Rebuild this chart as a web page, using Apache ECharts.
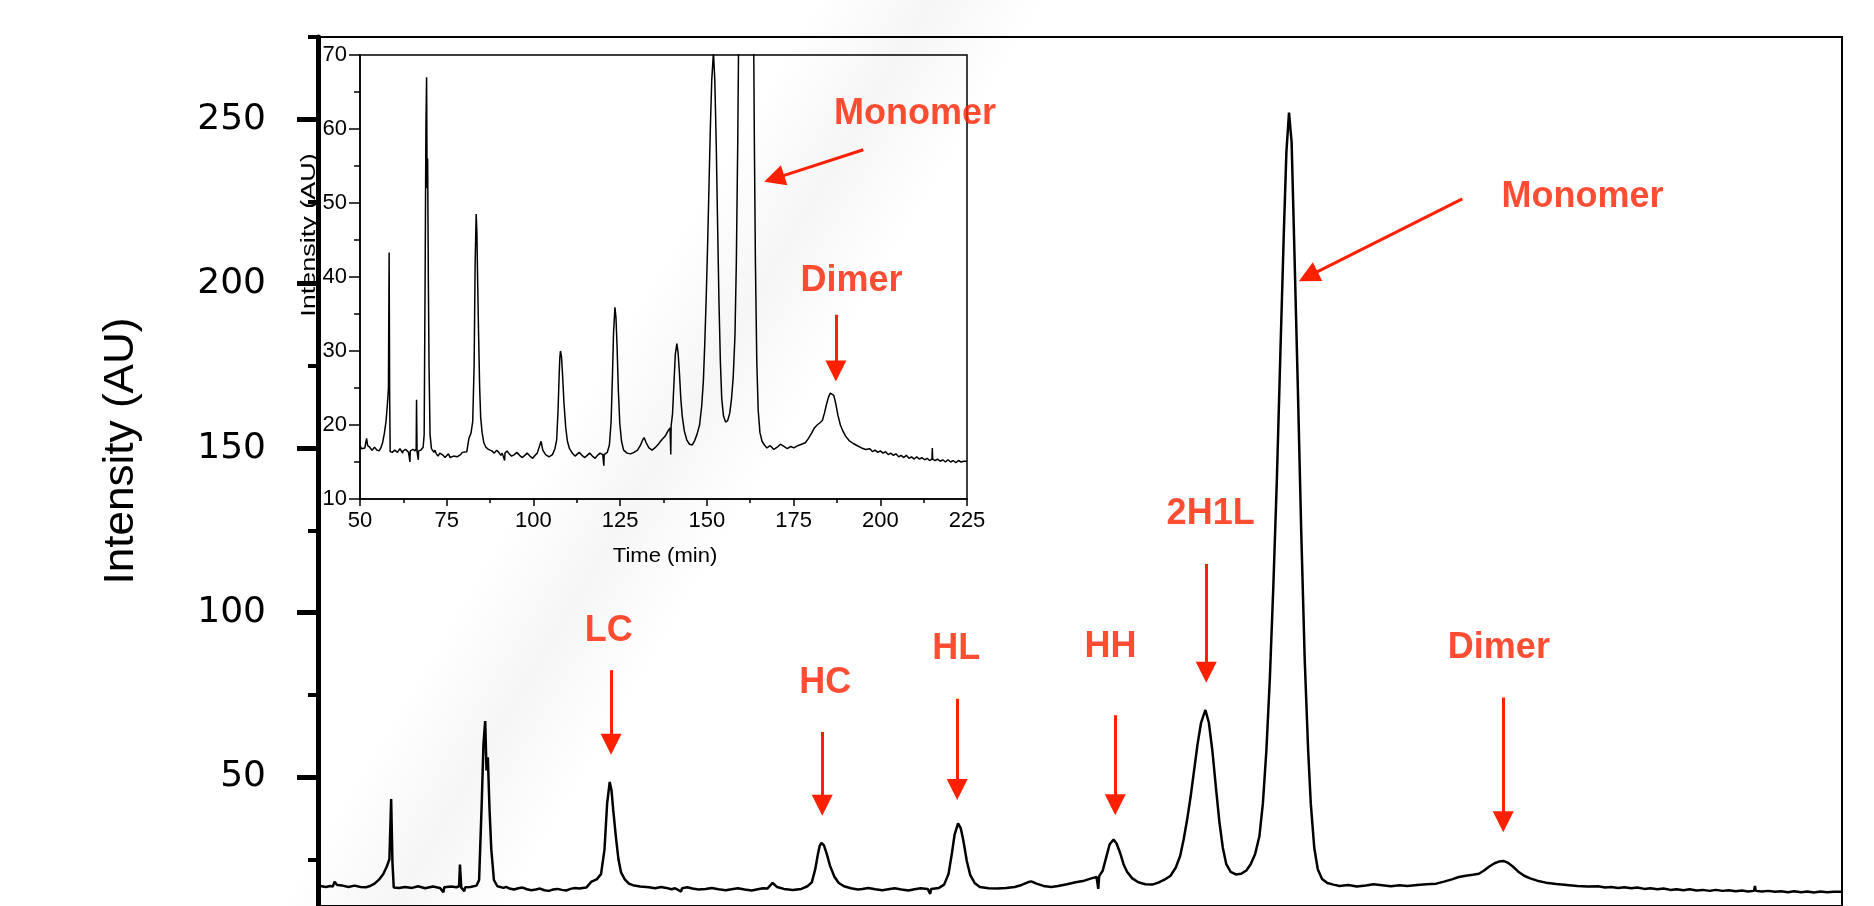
<!DOCTYPE html>
<html><head><meta charset="utf-8">
<script src="https://cdn.jsdelivr.net/npm/echarts@6/dist/echarts.min.js"></script>
<style>html,body{margin:0;padding:0;background:#fff}#c{width:1874px;height:906px}</style>
</head><body><div id="c"></div>
<script>
// Chromatogram: time (min) and intensity (AU), one line per stretch of the trace
const timeMin = [
 50.0,50.4,50.9,51.4,51.7,51.9,52.2,52.8,53.5,54.2,54.9,55.5,56.0,56.5,57.0,57.5,57.9,58.2,58.4,58.55,58.7,59.3,
 60.0,60.8,61.5,62.3,62.4,63.2,64.0,64.4,64.5,65.3,65.9,66.2,66.3,66.45,66.8,66.9,67.5,
 68.2,68.5,68.8,69.0,69.2,69.35,69.5,69.7,69.9,70.2,70.6,
 71.3,71.6,72.0,72.5,73.0,73.5,74.0,74.5,75.0,75.5,76.0,76.5,77.0,77.5,78.0,78.5,79.0,79.5,80.0,80.8,
 81.4,82.0,82.5,82.9,83.2,83.5,83.7,83.9,84.2,84.5,84.8,85.2,85.7,86.3,87.0,
 88.0,88.7,89.4,90.0,90.6,91.0,91.7,91.8,92.4,93.0,93.7,94.5,95.2,96.0,96.8,97.5,98.2,99.0,99.8,100.5,101.1,101.6,
 102.2,102.7,103.5,104.5,105.5,
 106.2,106.7,107.1,107.4,107.6,107.8,108.1,108.4,108.8,109.3,109.8,110.4,
 111.2,112.0,112.5,113.2,114.0,114.8,115.5,116.2,117.0,117.8,118.5,119.2,120.0,120.3,120.4,121.3,
 121.9,122.4,122.8,123.1,123.5,123.8,124.1,124.5,124.9,125.4,126.0,
 127.0,128.0,129.0,130.0,130.8,131.5,131.9,132.5,133.3,134.2,135.0,136.0,137.0,138.0,138.8,139.4,
 139.6,139.7,140.1,140.5,140.9,141.35,141.7,142.1,142.5,142.9,143.5,144.2,145.0,145.8,146.5,147.2,
 147.9,148.5,149.0,149.4,149.8,150.2,150.6,151.0,151.4,151.9,152.3,152.7,153.1,153.5,153.9,154.3,154.8,155.4,156.0,156.6,
 157.1,157.6,158.1,158.5,158.9,159.3,159.7,160.1,160.5,160.9,161.2,161.5,161.8,162.1,162.5,162.9,163.3,163.7,164.0,164.4,164.8,165.3,165.9,
 166.6,167.3,168.3,169.3,170.3,171.2,172.2,173.2,174.2,175.1,176.2,177.3,178.4,179.3,
 180.2,181.0,181.8,182.6,183.3,183.9,184.5,185.1,185.6,186.1,186.6,187.2,187.8,188.5,189.2,190.0,191.0,192.2,193.4,
 194.6,195.8,197.0,197.8,198.5,199.3,200.0,200.8,201.5,202.3,203.0,203.8,204.5,205.3,206.0,206.8,207.5,208.3,209.0,209.8,210.5,211.3,212.0,212.8,213.5,214.2,214.9,215.0,215.1,215.8,216.5,217.3,218.0,218.8,219.5,220.3,221.0,221.8,222.5,223.3,224.0,225.0
];
const intensity = [
 17.3,16.8,16.6,16.9,16.7,18.2,17.2,17.0,16.6,17.0,16.6,16.5,16.9,17.6,18.8,20.5,22.8,25.0,43.3,24.0,16.4,16.3,
 16.6,16.3,16.8,16.2,16.5,16.7,16.3,15.0,16.5,16.7,16.5,16.8,23.4,16.4,15.3,16.5,16.6,
 17.0,18.7,42.0,60.0,67.0,52.0,56.0,40.0,28.0,18.7,16.8,
 16.3,16.6,16.1,15.8,16.2,16.4,15.9,15.6,15.8,16.1,15.6,15.4,15.8,16.0,15.7,15.5,16.0,16.3,16.1,16.4,
 18.2,18.9,20.5,28.0,42.0,48.5,46.0,40.0,32.0,25.0,21.0,19.0,17.6,17.0,16.7,
 16.5,16.2,16.6,16.3,15.9,16.2,15.2,16.2,16.5,16.1,15.8,16.0,16.3,15.9,15.6,15.9,16.2,15.8,15.5,15.9,16.2,16.1,
 17.8,16.6,16.0,15.7,16.0,
 16.8,18.0,22.0,26.5,29.0,30.0,29.2,26.8,23.0,19.7,17.8,16.8,
 16.2,15.8,16.0,16.3,15.9,15.6,15.9,16.2,15.8,15.5,15.9,16.2,16.0,14.5,16.0,16.3,
 17.3,20.5,27.0,32.5,35.9,34.5,30.8,24.5,20.2,17.8,16.6,
 16.2,16.1,16.3,16.6,17.2,18.0,18.3,17.6,16.9,16.6,16.9,17.4,18.0,18.5,19.2,19.6,
 16.0,19.9,21.5,25.5,29.5,31.0,29.8,27.0,23.5,21.2,19.2,18.0,17.4,17.3,17.9,18.8,
 20.0,22.5,26.0,31.0,37.0,44.0,52.0,60.0,66.5,70.4,66.5,58.0,47.0,36.5,28.5,23.5,21.2,20.4,20.6,21.6,
 23.5,26.5,32.0,42.0,58.0,80.0,108.0,140.0,178.0,215.0,240.0,252.0,243.0,212.0,170.0,125.0,86.0,58.0,42.0,28.5,22.0,19.0,17.8,
 17.3,16.9,17.2,16.7,17.0,17.4,17.1,16.8,17.1,16.9,17.2,17.4,17.6,18.2,
 18.9,19.6,20.0,20.3,20.6,21.6,22.8,23.8,24.3,24.5,24.0,22.8,21.3,20.0,19.2,18.5,17.9,17.5,17.2,
 16.9,16.7,16.8,16.4,16.6,16.3,16.5,16.2,16.4,16.0,16.2,15.9,16.1,15.7,15.9,15.6,15.9,15.5,15.7,15.4,15.7,15.4,15.6,15.3,15.5,15.2,15.4,16.9,15.4,15.2,15.4,15.1,15.3,15.0,15.3,15.0,15.2,14.9,15.2,15.0,15.1,15.1
];
const mainYLabels = [50, 100, 150, 200, 250];
const mainYTicksAll = [25, 50, 75, 100, 125, 150, 175, 200, 225, 250, 275];
const mainLabels = ['Monomer', 'LC', 'HC', 'HL', 'HH', '2H1L', 'Dimer'];
const mainLabelPos = [[195.2, 226.4], [83.4, 94.5], [108.25, 78.5], [123.3, 89.0], [141.0, 89.5], [152.5, 130.0], [185.6, 89.3]];
const mainArrows = [
 [[181.4, 225.8], [163.7, 202.2]],
 [[83.65, 82.5], [83.65, 60.0]],
 [[107.9, 63.7], [107.9, 41.4]],
 [[123.4, 73.8], [123.4, 46.2]],
 [[141.55, 68.8], [141.55, 41.6]],
 [[152.0, 114.8], [152.0, 81.9]],
 [[186.1, 74.2], [186.1, 36.4]]
];
const insetLabels = ['Monomer', 'Dimer'];
const insetLabelPos = [[210.0, 62.0], [191.7, 39.5]];
const insetArrows = [
 [[195.1, 57.2], [169.4, 53.3]],
 [[187.2, 34.9], [187.2, 27.3]]
];

const RED = '#ff2000';
const FONT = 'Liberation Sans';
const n = Math.min(timeMin.length, intensity.length);
const pairs = timeMin.slice(0, n).map((t, i) => [t, intensity[i]]);
const redLabel = {show: true, position: 'inside', formatter: '{b}', color: RED, fontSize: 36, fontWeight: 'bold', fontFamily: FONT};
const arrowSeries = (xi, yi, arr) => ({
  type: 'line', xAxisIndex: xi, yAxisIndex: yi, data: [], silent: true,
  color: RED, itemStyle: {color: RED}, lineStyle: {color: RED},
  markLine: {
    silent: true, symbol: ['none', 'triangle'], symbolSize: 21,
    label: {show: false}, emphasis: {disabled: true},
    lineStyle: {color: RED, width: 3, type: 'solid', opacity: 1},
    data: arr.map(a => [{coord: a[0]}, {coord: a[1]}])
  }
});

const chart = echarts.init(document.getElementById('c'));
chart.setOption({
  animation: false,
  backgroundColor: '#fff',
  grid: [
    {left: 318, right: 32, top: 37, bottom: 0, show: true, borderColor: '#000', borderWidth: 2, backgroundColor: 'transparent'},
    {left: 360, right: 907, top: 55, bottom: 407, show: true, borderColor: '#000', borderWidth: 1.5, backgroundColor: 'transparent'}
  ],
  xAxis: [
    {gridIndex: 0, type: 'value', min: 50, max: 225, show: false},
    {gridIndex: 1, type: 'value', min: 50, max: 225, interval: 25,
     axisLine: {show: true, onZero: false, lineStyle: {color: '#000', width: 1.5}},
     axisTick: {show: true, inside: false, length: 7, lineStyle: {color: '#000', width: 1.5}},
     minorTick: {show: true, splitNumber: 2, length: 4, lineStyle: {color: '#000', width: 1.5}},
     axisLabel: {color: '#000', fontSize: 22, fontFamily: FONT, margin: 11},
     splitLine: {show: false}}
  ],
  yAxis: [
    {gridIndex: 0, type: 'value', position: 'left', min: 10.8, max: 275,
     axisLine: {show: true, onZero: false, lineStyle: {color: '#000', width: 5}},
     axisTick: {show: true, length: 10, customValues: mainYTicksAll, lineStyle: {color: '#000', width: 4}},
     axisLabel: {show: false}, splitLine: {show: false}},
    {gridIndex: 0, type: 'value', position: 'left', min: 10.8, max: 275,
     axisLine: {show: false},
     axisTick: {show: true, length: 21, customValues: mainYLabels, lineStyle: {color: '#000', width: 5}},
     axisLabel: {show: true, customValues: mainYLabels, color: '#000', fontSize: 36, fontFamily: 'DejaVu Sans', margin: 52},
     splitLine: {show: false}},
    {gridIndex: 1, type: 'value', min: 10, max: 70, interval: 10,
     axisLine: {show: true, onZero: false, lineStyle: {color: '#000', width: 1.5}},
     axisTick: {show: true, inside: false, length: 11, lineStyle: {color: '#000', width: 1.5}},
     minorTick: {show: true, splitNumber: 2, length: 6, lineStyle: {color: '#000', width: 1.5}},
     axisLabel: {color: '#000', fontSize: 22, fontFamily: FONT, margin: 13},
     splitLine: {show: false}}
  ],
  graphic: [
    {type: 'rect', x: 663, y: 453, rotation: -0.536, z: -10, silent: true,
     shape: {x: -100, y: -650, width: 200, height: 1300},
     style: {fill: new echarts.graphic.LinearGradient(0, 0, 1, 0, [
       {offset: 0, color: 'rgba(0,0,0,0)'},
       {offset: 0.5, color: 'rgba(0,0,0,0.035)'},
       {offset: 1, color: 'rgba(0,0,0,0)'}])}},
    {type: 'text', x: 121, y: 451, rotation: Math.PI / 2, scaleX: 1.05,
     style: {text: 'Intensity (AU)', fontSize: 42, fontFamily: FONT, fill: '#000', align: 'center', verticalAlign: 'middle'}},
    {type: 'text', x: 309, y: 235, rotation: Math.PI / 2, scaleX: 1.35, z: 10,
     style: {text: 'Intensity (AU)', fontSize: 20, fontFamily: FONT, fill: '#000', align: 'center', verticalAlign: 'middle'}},
    {type: 'text', x: 665, y: 556, scaleX: 1.05,
     style: {text: 'Time (min)', fontSize: 21, fontFamily: FONT, fill: '#000', align: 'center', verticalAlign: 'middle'}}
  ],
  series: [
    {type: 'line', xAxisIndex: 0, yAxisIndex: 0, data: pairs, symbol: 'none', silent: true,
     lineStyle: {color: '#000', width: 2.5}},
    {type: 'line', xAxisIndex: 1, yAxisIndex: 2, data: pairs, symbol: 'none', silent: true, clip: true,
     lineStyle: {color: '#000', width: 1.5}},
    {type: 'scatter', xAxisIndex: 0, yAxisIndex: 0, symbolSize: 1, silent: true,
     itemStyle: {color: 'rgba(0,0,0,0)'}, label: redLabel,
     data: mainLabels.map((nm, i) => ({name: nm, value: mainLabelPos[i]}))},
    {type: 'scatter', xAxisIndex: 1, yAxisIndex: 2, symbolSize: 1, silent: true,
     itemStyle: {color: 'rgba(0,0,0,0)'}, label: redLabel,
     data: insetLabels.map((nm, i) => ({name: nm, value: insetLabelPos[i]}))},
    arrowSeries(0, 0, mainArrows),
    arrowSeries(1, 2, insetArrows)
  ]
});
</script></body></html>
